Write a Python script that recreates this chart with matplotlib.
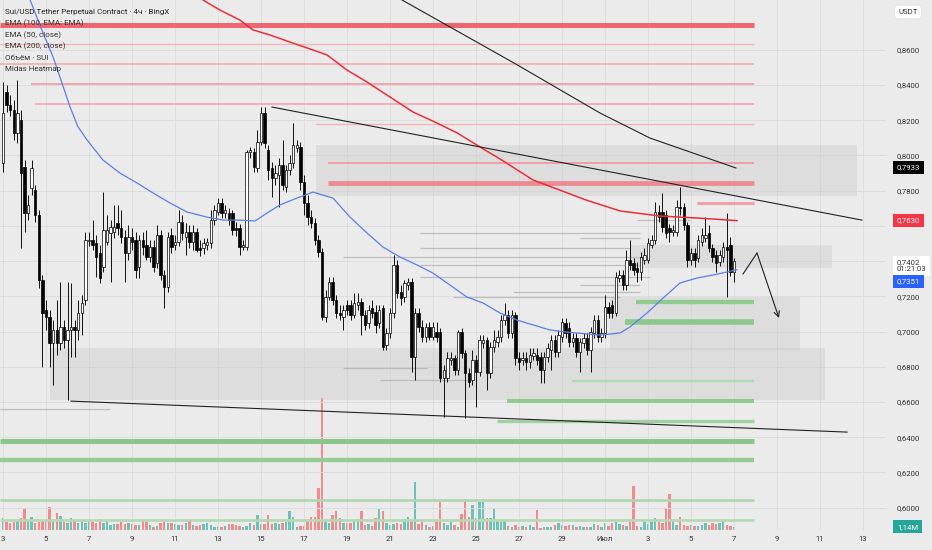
import numpy as np
import matplotlib.pyplot as plt
from matplotlib.patches import Rectangle
from matplotlib.ticker import FuncFormatter

plt.rcParams['font.family'] = ['Roboto', 'DejaVu Sans']

# SUI/USDT perp, 4h candles starting 3 June; x axis in "June days" (1 July = 31)
opens = [0.7957, 0.8360, 0.8287, 0.8258, 0.8128, 0.8201, 0.7934, 0.7673, 0.7815, 0.7804,
         0.7662, 0.7293, 0.7122, 0.7082, 0.6935, 0.7009, 0.6935, 0.7026, 0.6952, 0.7009,
         0.7026, 0.7009, 0.7105, 0.7179, 0.7514, 0.7520, 0.7503, 0.7446, 0.7366, 0.7508,
         0.7560, 0.7565, 0.7616, 0.7588, 0.7537, 0.7446, 0.7537, 0.7520, 0.7366, 0.7520,
         0.7491, 0.7423, 0.7480, 0.7389, 0.7548, 0.7321, 0.7253, 0.7548, 0.7491, 0.7508,
         0.7622, 0.7537, 0.7565, 0.7508, 0.7565, 0.7474, 0.7474, 0.7491, 0.7503, 0.7633,
         0.7679, 0.7730, 0.7673, 0.7673, 0.7673, 0.7588, 0.7588, 0.7480, 0.7480, 0.8020,
         0.8020, 0.7929, 0.8076, 0.8241, 0.8031, 0.7929, 0.7872, 0.7889, 0.7946, 0.7821,
         0.7917, 0.7957, 0.8042, 0.8048, 0.7849, 0.7730, 0.7650, 0.7616, 0.7520, 0.7452,
         0.7082, 0.7196, 0.7281, 0.7179, 0.7105, 0.7082, 0.7151, 0.7151, 0.7094, 0.7151,
         0.7168, 0.7094, 0.7048, 0.7134, 0.7111, 0.7048, 0.7134, 0.6923, 0.6992, 0.7105,
         0.7378, 0.7225, 0.7196, 0.7264, 0.7281, 0.6855, 0.7105, 0.7026, 0.6969, 0.7026,
         0.6969, 0.6997, 0.6997, 0.6736, 0.6736, 0.6838, 0.6850, 0.6781, 0.6997, 0.6878,
         0.6764, 0.6725, 0.6838, 0.6770, 0.6935, 0.6952, 0.6764, 0.6912, 0.6941, 0.6969,
         0.7065, 0.7094, 0.6992, 0.7094, 0.6850, 0.6838, 0.6850, 0.6827, 0.6861, 0.6867,
         0.6855, 0.6781, 0.6855, 0.6895, 0.6952, 0.6884, 0.6969, 0.7048, 0.7020, 0.6941,
         0.6963, 0.6884, 0.6935, 0.6963, 0.6895, 0.6992, 0.7065, 0.6969, 0.6992, 0.7139,
         0.7151, 0.7105, 0.7304, 0.7321, 0.7264, 0.7406, 0.7389, 0.7361, 0.7338, 0.7406,
         0.7406, 0.7491, 0.7520, 0.7679, 0.7679, 0.7662, 0.7588, 0.7565, 0.7565, 0.7707,
         0.7707, 0.7605, 0.7406, 0.7446, 0.7418, 0.7508, 0.7531, 0.7560, 0.7474, 0.7435,
         0.7395, 0.7423, 0.7480, 0.7491, 0.7338]
closes = [0.8241, 0.8287, 0.8258, 0.8128, 0.8241, 0.7900, 0.7673, 0.7719, 0.7929, 0.7662,
          0.7293, 0.7105, 0.7082, 0.6935, 0.7009, 0.6935, 0.7026, 0.6952, 0.7009, 0.7026,
          0.7009, 0.7105, 0.7162, 0.7520, 0.7520, 0.7491, 0.7423, 0.7304, 0.7577, 0.7577,
          0.7594, 0.7594, 0.7588, 0.7537, 0.7446, 0.7537, 0.7508, 0.7349, 0.7520, 0.7480,
          0.7423, 0.7480, 0.7366, 0.7548, 0.7321, 0.7253, 0.7537, 0.7480, 0.7508, 0.7622,
          0.7560, 0.7565, 0.7508, 0.7565, 0.7463, 0.7463, 0.7503, 0.7508, 0.7633, 0.7690,
          0.7730, 0.7673, 0.7690, 0.7633, 0.7577, 0.7577, 0.7480, 0.7491, 0.8020, 0.8031,
          0.7934, 0.8076, 0.8241, 0.8071, 0.7917, 0.7872, 0.7900, 0.7946, 0.7832, 0.7917,
          0.7957, 0.8059, 0.8059, 0.7849, 0.7730, 0.7650, 0.7616, 0.7520, 0.7452, 0.7082,
          0.7196, 0.7281, 0.7179, 0.7105, 0.7094, 0.7122, 0.7122, 0.7094, 0.7162, 0.7168,
          0.7094, 0.7037, 0.7122, 0.7105, 0.7037, 0.7122, 0.6912, 0.6992, 0.7105, 0.7378,
          0.7219, 0.7190, 0.7276, 0.7281, 0.6855, 0.7105, 0.7026, 0.6969, 0.7026, 0.6969,
          0.7026, 0.6969, 0.6736, 0.6781, 0.6850, 0.6850, 0.6781, 0.6997, 0.6878, 0.6764,
          0.6713, 0.6838, 0.6770, 0.6952, 0.6952, 0.6764, 0.6912, 0.6952, 0.6969, 0.7065,
          0.7094, 0.6992, 0.7094, 0.6850, 0.6827, 0.6850, 0.6827, 0.6867, 0.6878, 0.6838,
          0.6781, 0.6855, 0.6906, 0.6952, 0.6884, 0.6980, 0.7054, 0.6992, 0.6941, 0.6963,
          0.6884, 0.6941, 0.6963, 0.6895, 0.6997, 0.7065, 0.6969, 0.6992, 0.7139, 0.7105,
          0.7105, 0.7310, 0.7321, 0.7264, 0.7406, 0.7378, 0.7349, 0.7338, 0.7423, 0.7435,
          0.7503, 0.7520, 0.7679, 0.7650, 0.7594, 0.7560, 0.7565, 0.7577, 0.7707, 0.7702,
          0.7605, 0.7406, 0.7446, 0.7406, 0.7520, 0.7548, 0.7548, 0.7474, 0.7423, 0.7389,
          0.7435, 0.7480, 0.7463, 0.7338, 0.7402]
highs = [0.8417, 0.8400, 0.8343, 0.8315, 0.8429, 0.8258, 0.7974, 0.7775, 0.7974, 0.7832,
         0.7690, 0.7321, 0.7179, 0.7122, 0.7065, 0.7179, 0.7281, 0.7065, 0.7281, 0.7276,
         0.7065, 0.7179, 0.7207, 0.7565, 0.7565, 0.7633, 0.7548, 0.7491, 0.7792, 0.7662,
         0.7633, 0.7719, 0.7719, 0.7690, 0.7577, 0.7605, 0.7588, 0.7565, 0.7548, 0.7565,
         0.7577, 0.7520, 0.7520, 0.7605, 0.7577, 0.7349, 0.7565, 0.7588, 0.7548, 0.7690,
         0.7662, 0.7616, 0.7605, 0.7605, 0.7588, 0.7520, 0.7531, 0.7531, 0.7690, 0.7719,
         0.7758, 0.7758, 0.7719, 0.7702, 0.7690, 0.7622, 0.7611, 0.7520, 0.8031, 0.8048,
         0.8042, 0.8145, 0.8275, 0.8275, 0.8059, 0.7963, 0.7946, 0.7986, 0.8088, 0.7946,
         0.8003, 0.8184, 0.8088, 0.8076, 0.7889, 0.7775, 0.7690, 0.7645, 0.7548, 0.7474,
         0.7236, 0.7310, 0.7310, 0.7207, 0.7151, 0.7151, 0.7179, 0.7179, 0.7219, 0.7219,
         0.7190, 0.7122, 0.7151, 0.7179, 0.7151, 0.7151, 0.7151, 0.7020, 0.7134, 0.7435,
         0.7406, 0.7264, 0.7293, 0.7304, 0.7304, 0.7134, 0.7134, 0.7065, 0.7048, 0.7054,
         0.7054, 0.7054, 0.7020, 0.6810, 0.6884, 0.6884, 0.6867, 0.7009, 0.7020, 0.6895,
         0.6793, 0.6895, 0.6867, 0.6980, 0.6980, 0.6969, 0.6941, 0.7009, 0.7009, 0.7094,
         0.7162, 0.7122, 0.7122, 0.7111, 0.6884, 0.6884, 0.6884, 0.6906, 0.6906, 0.6906,
         0.6884, 0.6884, 0.6935, 0.6980, 0.6980, 0.7009, 0.7077, 0.7077, 0.7054, 0.6992,
         0.6992, 0.6963, 0.6992, 0.6992, 0.7026, 0.7094, 0.7094, 0.7020, 0.7207, 0.7168,
         0.7179, 0.7338, 0.7349, 0.7349, 0.7463, 0.7520, 0.7418, 0.7395, 0.7452, 0.7474,
         0.7531, 0.7548, 0.7736, 0.7719, 0.7787, 0.7690, 0.7611, 0.7605, 0.7747, 0.7821,
         0.7730, 0.7622, 0.7474, 0.7474, 0.7548, 0.7588, 0.7650, 0.7605, 0.7497, 0.7463,
         0.7463, 0.7508, 0.7673, 0.7537, 0.7418]
lows = [0.7906, 0.8247, 0.8224, 0.8088, 0.8071, 0.7474, 0.7565, 0.7633, 0.7775, 0.7622,
        0.7247, 0.6798, 0.7009, 0.6798, 0.6696, 0.6867, 0.6895, 0.6906, 0.6611, 0.6855,
        0.6855, 0.6952, 0.6980, 0.7151, 0.7486, 0.7463, 0.7310, 0.7276, 0.7338, 0.7491,
        0.7281, 0.7531, 0.7548, 0.7503, 0.7281, 0.7406, 0.7463, 0.7304, 0.7304, 0.7435,
        0.7406, 0.7395, 0.7338, 0.7361, 0.7293, 0.7134, 0.7225, 0.7446, 0.7463, 0.7486,
        0.7520, 0.7435, 0.7474, 0.7463, 0.7452, 0.7429, 0.7440, 0.7463, 0.7474, 0.7605,
        0.7662, 0.7645, 0.7645, 0.7605, 0.7548, 0.7543, 0.7435, 0.7463, 0.7463, 0.7986,
        0.7906, 0.7906, 0.8059, 0.8042, 0.7861, 0.7764, 0.7832, 0.7707, 0.7804, 0.7792,
        0.7889, 0.7929, 0.8020, 0.7804, 0.7662, 0.7605, 0.7588, 0.7491, 0.7423, 0.7065,
        0.7054, 0.7179, 0.7151, 0.7077, 0.7065, 0.7009, 0.7094, 0.7065, 0.7077, 0.7122,
        0.6980, 0.7009, 0.7020, 0.7077, 0.6992, 0.7020, 0.6895, 0.6895, 0.6963, 0.7077,
        0.7190, 0.7151, 0.7168, 0.7236, 0.6770, 0.6725, 0.6997, 0.6941, 0.6941, 0.6952,
        0.6952, 0.6941, 0.6713, 0.6514, 0.6713, 0.6810, 0.6753, 0.6753, 0.6850, 0.6509,
        0.6685, 0.6696, 0.6571, 0.6747, 0.6906, 0.6668, 0.6736, 0.6884, 0.6912, 0.6941,
        0.7037, 0.6963, 0.6963, 0.6810, 0.6781, 0.6810, 0.6781, 0.6793, 0.6838, 0.6810,
        0.6708, 0.6708, 0.6827, 0.6781, 0.6855, 0.6855, 0.6941, 0.6963, 0.6912, 0.6912,
        0.6855, 0.6770, 0.6906, 0.6867, 0.6770, 0.6963, 0.6941, 0.6941, 0.6963, 0.7077,
        0.7077, 0.7088, 0.7281, 0.7236, 0.7236, 0.7349, 0.7321, 0.7281, 0.7293, 0.7383,
        0.7389, 0.7474, 0.7497, 0.7622, 0.7565, 0.7531, 0.7508, 0.7543, 0.7543, 0.7662,
        0.7577, 0.7366, 0.7378, 0.7366, 0.7395, 0.7486, 0.7508, 0.7452, 0.7395, 0.7338,
        0.7372, 0.7395, 0.7196, 0.7315, 0.7281]
# volume, millions SUI
volumes = [4.0, 2.9, 2.3, 2.9, 3.5, 4.0, 7.5, 3.5, 4.4, 2.3,
           2.9, 3.2, 3.5, 8.1, 3.5, 6.0, 4.8, 2.9, 2.3, 4.0,
           3.2, 2.5, 3.5, 2.3, 3.1, 2.9, 2.5, 3.7, 2.5, 3.5,
           1.7, 2.1, 2.1, 2.6, 2.0, 2.3, 2.1, 1.7, 1.7, 3.2,
           2.6, 1.7, 1.2, 1.4, 2.3, 3.5, 2.5, 2.5, 2.1, 1.7,
           1.7, 2.3, 3.5, 1.7, 1.4, 1.7, 2.0, 2.5, 1.7, 1.2,
           0.9, 0.9, 1.4, 2.1, 2.1, 1.7, 1.4, 1.2, 1.4, 2.5,
           1.7, 5.2, 2.1, 2.1, 5.2, 2.1, 2.5, 2.1, 2.3, 2.9,
           6.6, 4.6, 1.2, 1.4, 1.4, 3.5, 4.4, 4.6, 14.4, 45.5,
           2.9, 2.3, 5.2, 6.7, 4.0, 2.3, 2.3, 2.3, 3.5, 3.7,
           6.7, 1.7, 2.1, 1.4, 4.0, 7.1, 6.7, 2.3, 1.7, 2.1,
           2.3, 2.1, 3.7, 4.4, 2.9, 16.7, 2.1, 2.9, 1.7, 1.2,
           1.4, 3.5, 9.8, 2.5, 1.7, 3.2, 1.7, 1.2, 5.5, 10.6,
           4.6, 8.6, 4.3, 9.8, 9.5, 4.0, 4.0, 7.5, 3.5, 2.9,
           3.5, 1.4, 1.2, 1.7, 1.2, 1.4, 1.2, 1.7, 1.2, 6.9,
           0.6, 0.9, 0.9, 1.2, 1.7, 2.5, 1.7, 1.4, 1.7, 1.7,
           1.2, 1.4, 1.2, 0.9, 1.2, 2.1, 1.7, 1.2, 2.3, 1.4,
           2.3, 2.6, 2.1, 1.7, 1.4, 2.9, 15.0, 1.4, 1.2, 2.9,
           2.1, 2.9, 4.0, 2.9, 2.5, 7.5, 12.4, 3.2, 1.7, 4.6,
           1.7, 1.4, 1.7, 1.4, 1.4, 1.7, 2.3, 1.7, 2.5, 2.1,
           2.5, 3.2, 1.7, 1.4, 1.14]

# moving averages (day, price)
ema100_days = [12.30, 13.09, 14.02, 14.63, 15.42, 16.35, 17.42, 18.07, 19.00, 19.93, 21.00, 22.07,
               23.19, 24.12, 25.19, 26.12, 27.65, 30.12, 31.70, 33.56, 35.28, 37.14]
ema100_vals = [0.8883, 0.8826, 0.8769, 0.8713, 0.8684, 0.8644, 0.8599, 0.8571, 0.8485, 0.8417, 0.8332, 0.8247,
               0.8184, 0.8128, 0.8048, 0.7980, 0.7861, 0.7747, 0.7685, 0.7656, 0.7645, 0.7630]
ema50_days = [4.26, 4.86, 5.33, 5.74, 6.12, 6.49, 6.91, 7.65, 8.44, 9.23, 9.98, 10.77, 11.56, 12.49,
              13.23, 14.02, 14.72, 15.28, 15.88, 16.67, 17.42, 18.35, 19.14, 19.93, 20.67, 21.47,
              22.26, 23.00, 23.79, 24.58, 25.33, 26.12, 26.91, 28.44, 29.23, 30.77, 31.70, 32.16,
              32.95, 33.70, 34.49, 35.28, 36.02, 37.14]
ema50_vals = [0.8883, 0.8696, 0.8559, 0.8412, 0.8275, 0.8162, 0.8088, 0.7974, 0.7900, 0.7844, 0.7787, 0.7730,
              0.7679, 0.7650, 0.7633, 0.7633, 0.7628, 0.7673, 0.7719, 0.7758, 0.7792, 0.7758, 0.7650,
              0.7560, 0.7480, 0.7423, 0.7378, 0.7332, 0.7264, 0.7196, 0.7162, 0.7105, 0.7065, 0.7009,
              0.6997, 0.6980, 0.6992, 0.7026, 0.7105, 0.7190, 0.7276, 0.7304, 0.7321, 0.7351]

# heatmap levels
res_levels = [0.8741, 0.8633, 0.8519, 0.8406, 0.8292, 0.8179, 0.7957, 0.7844, 0.7730]
res_from = [2.86, 2.86, 2.86, 4.30, 4.49, 17.56, 18.12, 18.12, 35.28]
sup_levels = [0.7166, 0.7052, 0.6719, 0.6603, 0.6493, 0.6378, 0.6268, 0.6043, 0.5930]
sup_from = [32.44, 31.93, 29.47, 26.44, 25.98, 2.86, 2.86, 2.86, 2.86]
levels_to = 37.93
zone_from = [17.56, 32.16, 31.23, 5.19]
zone_to = [42.72, 41.56, 40.07, 41.23]
zone_lo = [0.7770, 0.7361, 0.6895, 0.6611]
zone_hi = [0.8059, 0.7491, 0.7196, 0.6906]
heat_levels = [0.7633, 0.7560, 0.7531, 0.7474, 0.7423, 0.7378, 0.7310, 0.7264, 0.7225, 0.7196, 0.6792, 0.6725, 0.6560]
heat_from = [32.49, 22.40, 29.84, 22.40, 18.81, 22.40, 22.40, 29.84, 26.72, 23.93, 18.81, 20.53, 2.86]
heat_to = [34.95, 32.63, 32.63, 32.16, 33.09, 32.63, 33.09, 32.63, 32.63, 31.70, 22.70, 24.72, 7.98]

# drawn trendlines
curve_days = [21.56, 26.77, 30.77, 33.09, 35.09, 37.09]
curve_vals = [0.8883, 0.8525, 0.8241, 0.8099, 0.8014, 0.7929]
res_line_days = [15.51, 42.95]
res_line_vals = [0.8275, 0.7633]
sup_line_days = [6.16, 42.26]
sup_line_vals = [0.6605, 0.6429]
arrow_days = [37.42, 38.07, 39.09]
arrow_vals = [0.7327, 0.7446, 0.7077]

day_ticks = list(range(3, 45, 2))
day_labels = ['3', '5', '7', '9', '11', '13', '15', '17', '19', '21', '23', '25', '27', '29',
              'Июл', '3', '5', '7', '9', '11', '13']
price_ticks = [0.60, 0.62, 0.64, 0.66, 0.68, 0.70, 0.72, 0.74, 0.76, 0.78, 0.80, 0.82, 0.84, 0.86]
hidden_ticks = [0.74, 0.76]   # covered by the last-price / EMA tags on the scale

o = np.array(opens)
c = np.array(closes)
t = 3 + np.arange(len(c)) / 6
up = c >= o

bg = '#ebebeb'
fig = plt.figure(figsize=(9.32, 5.5), dpi=100, facecolor=bg)
rect = [0, 20 / 550, 886 / 932, 530 / 550]
axv = fig.add_axes(rect)
ax = fig.add_axes(rect, sharex=axv)
ax.patch.set_alpha(0)

ax.set_xlim(2.86, 44.07)
ax.set_ylim(0.5873, 0.8883)
axv.set_ylim(0, 182.7)
axv.axis('off')

# volume
vcol = np.where(up, '#6fc1b5', '#f08c8c')
axv.bar(t, volumes, width=0.115, color=vcol, linewidth=0)


def price_fmt(v, _):
    if any(abs(v - h) < 1e-6 for h in hidden_ticks):
        return ''
    return f'{v:.4f}'.replace('.', ',')


for s in ax.spines.values():
    s.set_visible(False)
ax.yaxis.tick_right()
ax.set_yticks(price_ticks)
ax.yaxis.set_major_formatter(FuncFormatter(price_fmt))
ax.tick_params(axis='y', length=0, pad=8, labelsize=5.6, labelcolor='#333333')
ax.set_xticks(day_ticks)
ax.set_xticklabels(day_labels)
ax.tick_params(axis='x', length=0, pad=4, labelsize=5.6, labelcolor='#333333')
ax.grid(True, color='#dcdcdc', lw=0.6)
ax.set_axisbelow(True)

# heatmap zones and levels
for a, b, lo, hi in zip(zone_from, zone_to, zone_lo, zone_hi):
    ax.add_patch(Rectangle((a, lo), b - a, hi - lo, fc='#cccccc', ec='none', alpha=0.45, zorder=1))
ax.hlines(heat_levels, heat_from, heat_to, colors='#b3b3b3', lw=0.9, alpha=0.8, zorder=1.5)

res_lw = [3.6, 1.0, 1.1, 1.3, 1.2, 1.0, 1.3, 3.4, 2.2]
res_col = ['#ef6670', '#f4b4bb', '#f2a6ae', '#f0a0a8', '#f2a6ae', '#f4b4bb', '#f09aa3', '#ec8a93', '#f0a0a8']
for lvl, a, lw, col in zip(res_levels, res_from, res_lw, res_col):
    ax.hlines(lvl, a, levels_to, colors=col, lw=lw, zorder=2)
sup_lw = [3.1, 4.0, 1.7, 2.9, 2.4, 3.6, 3.1, 1.9, 1.9]
sup_col = ['#8fca8f', '#8cc78c', '#b2d9b2', '#92cb92', '#a0d0a0', '#8cc68c', '#95cb95', '#b0d6b0', '#b5d8b5']
for lvl, a, lw, col in zip(sup_levels, sup_from, sup_lw, sup_col):
    ax.hlines(lvl, a, levels_to, colors=col, lw=lw, zorder=2)

# candles
ax.vlines(t, lows, highs, color='#111111', lw=0.7, zorder=4)
body_lo = np.minimum(o, c)
body_h = np.maximum(np.abs(c - o), 0.0004)
ax.bar(t, body_h, bottom=body_lo, width=0.115, color=np.where(up, 'white', 'black'),
       edgecolor='black', linewidth=0.5, zorder=5)

# moving averages
ax.plot(ema100_days, ema100_vals, color='#ee2d3a', lw=1.1, zorder=6, solid_joinstyle='round')
ax.plot(ema50_days, ema50_vals, color='#5b7fe6', lw=0.9, zorder=6, solid_joinstyle='round')

# trendlines and projection arrow
ax.plot(curve_days, curve_vals, color='#222222', lw=0.8, zorder=6)
ax.plot(res_line_days, res_line_vals, color='#222222', lw=0.8, zorder=6)
ax.plot(sup_line_days, sup_line_vals, color='#222222', lw=0.8, zorder=6)
ax.plot(arrow_days[:2], arrow_vals[:2], color='#222222', lw=0.8, zorder=6)
ax.annotate('', xy=(arrow_days[2], arrow_vals[2]), xytext=(arrow_days[1], arrow_vals[1]),
            arrowprops=dict(arrowstyle='->', color='#222222', lw=0.8, shrinkA=0, shrinkB=0), zorder=6)

# legend block
legend_lines = ['Sui/USD Tether Perpetual Contract · 4ч · BingX', 'EMA (100, EMA: EMA)', 'EMA (50, close)',
                'EMA (200, close)', 'Объём · SUI', 'Midas Heatmap']
for k, line in enumerate(legend_lines):
    ax.text(5 / 886, 1 - (12 + 11.5 * k) / 530, line, transform=ax.transAxes, fontsize=5.8,
            color='#222222' if k == 0 else '#333333', va='center', ha='left', zorder=10)

# price scale labels
ytr = ax.get_yaxis_transform()


def tag(axis, y, txt, fc, tc, tr):
    axis.text(1.0124, y, txt, transform=tr, fontsize=5.6, color=tc, va='center', ha='left',
              clip_on=False, zorder=20,
              bbox=dict(boxstyle='square,pad=0.45', fc=fc, ec='none'))


tag(ax, 0.7933, '0,7933', 'black', 'white', ytr)
tag(ax, 0.7630, '0,7630', '#f23645', 'white', ytr)
tag(ax, 0.7375, '0,7402\n01:21:03', 'white', '#333333', ytr)
tag(ax, 0.7284, '0,7351', '#2962ff', 'white', ytr)
tag(axv, 1.14, '1,14M', '#26a69a', 'white', axv.get_yaxis_transform())

fig.text(908 / 932, 1 - 12 / 550, 'USDT', fontsize=5.6, color='#333333', ha='center', va='center',
         bbox=dict(boxstyle='round,pad=0.5', fc='white', ec='#e2e2e2', lw=0.6))

fig.savefig('out.png', dpi=100, facecolor=bg)
